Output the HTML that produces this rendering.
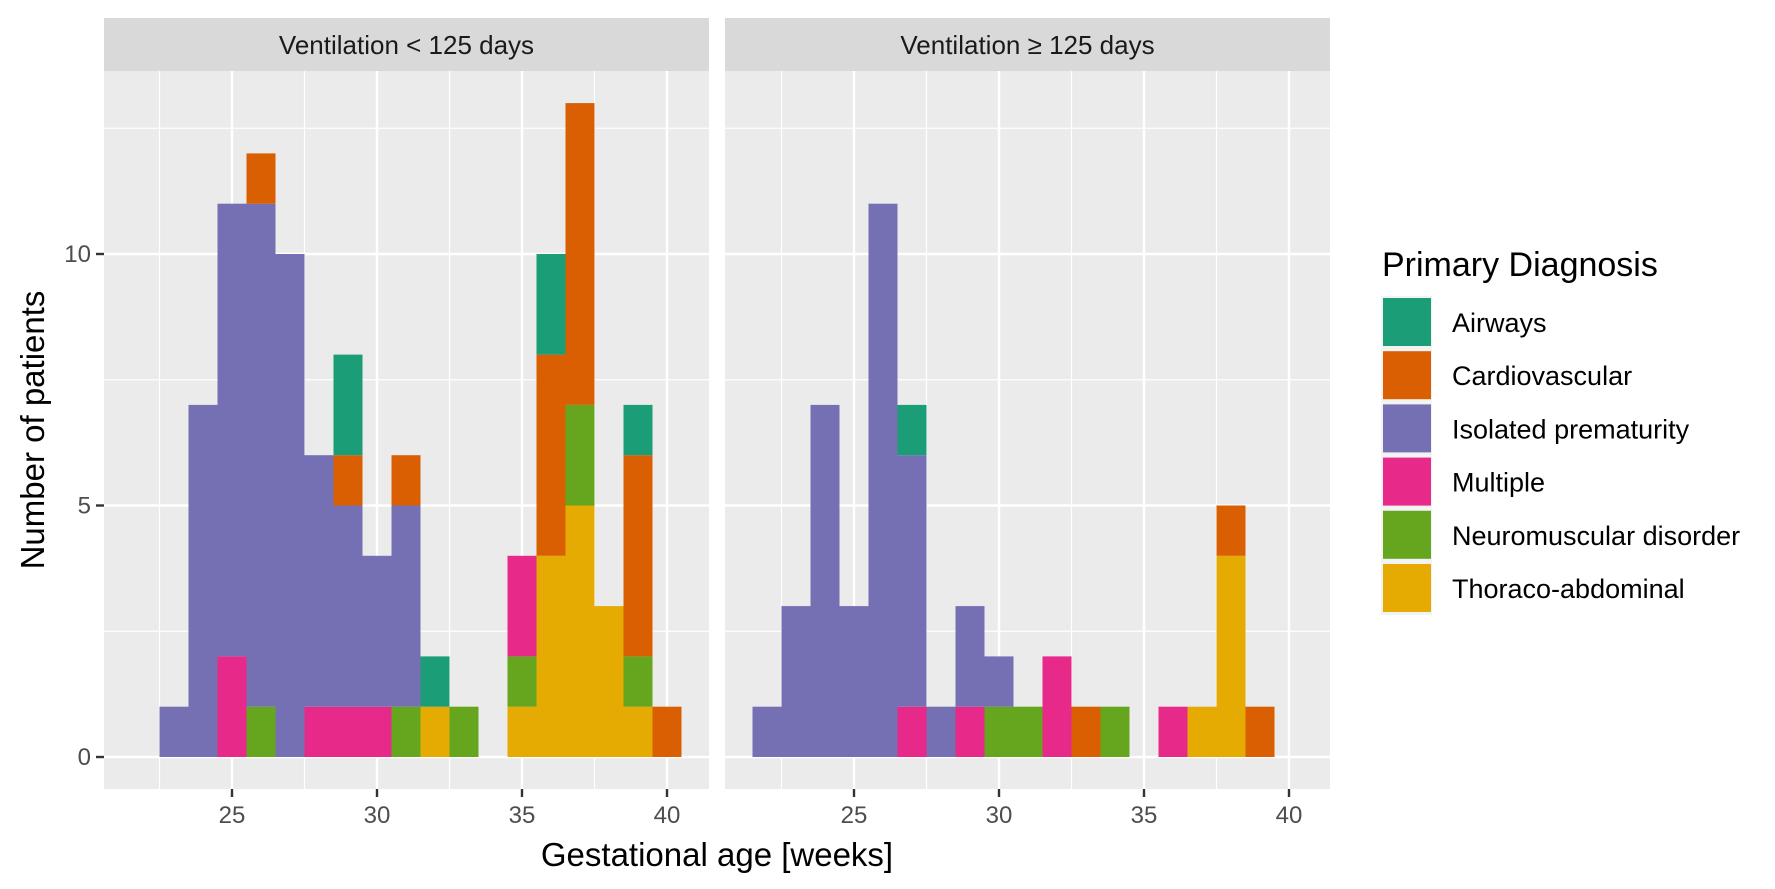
<!DOCTYPE html>
<html><head><meta charset="utf-8"><style>
html,body{margin:0;padding:0;background:#fff;}
svg{display:block;font-family:"Liberation Sans",Arial,sans-serif;}
</style></head><body>
<svg id="chart" width="1775" height="889" viewBox="0 0 1775 889">
<g id="panels"></g>
<text x="717" y="866" font-size="33" text-anchor="middle" fill="#000">Gestational age [weeks]</text>
<text transform="translate(44,430) rotate(-90)" font-size="33" text-anchor="middle" fill="#000">Number of patients</text>
<g id="legend"></g>
</svg>
<script>
const categories = ["Airways","Cardiovascular","Isolated prematurity","Multiple","Neuromuscular disorder","Thoraco-abdominal"];
const colors = ["#1B9E77","#D95F02","#7570B3","#E7298A","#66A61E","#E6AB02"];
const stackOrder = ["Thoraco-abdominal","Neuromuscular disorder","Multiple","Isolated prematurity","Cardiovascular","Airways"];
const panelTitles = ["Ventilation < 125 days","Ventilation \u2265 125 days"];
const xTicks = [25,30,35,40];
const yTicks = [0,5,10];
// bins (weeks) and counts per category: [Airways, Cardio, Isolated, Multiple, Neuro, Thoraco]
const bins1 = [23,24,25,26,27,28,29,30,31,32,33,35,36,37,38,39,40];
const counts1 = [
 [0,0,1,0,0,0],[0,0,7,0,0,0],[0,0,9,2,0,0],[0,1,10,0,1,0],[0,0,10,0,0,0],
 [0,0,5,1,0,0],[2,1,4,1,0,0],[0,0,3,1,0,0],[0,1,4,0,1,0],[1,0,0,0,0,1],
 [0,0,0,0,1,0],[0,0,0,2,1,1],[2,4,0,0,0,4],[0,6,0,0,2,5],[0,0,0,0,0,3],
 [1,4,0,0,1,1],[0,1,0,0,0,0]
];
const bins2 = [22,23,24,25,26,27,28,29,30,31,32,33,34,36,37,38,39];
const counts2 = [
 [0,0,1,0,0,0],[0,0,3,0,0,0],[0,0,7,0,0,0],[0,0,3,0,0,0],[0,0,11,0,0,0],
 [1,0,5,1,0,0],[0,0,1,0,0,0],[0,0,2,1,0,0],[0,0,1,0,1,0],[0,0,0,0,1,0],
 [0,0,0,2,0,0],[0,1,0,0,0,0],[0,0,0,0,1,0],[0,0,0,1,0,0],[0,0,0,0,0,1],
 [0,1,0,0,0,4],[0,1,0,0,0,0]
];
const NS="http://www.w3.org/2000/svg";
function mk(tag,attrs,parent){const e=document.createElementNS(NS,tag);for(const k in attrs)e.setAttribute(k,attrs[k]);parent.appendChild(e);return e;}
const plotTop=71,plotBot=789,y0=757,ppu=50.3,ppw=29;
const yScale=v=>y0-v*ppu;
const panels=[{left:104,right:709,x25:232,bins:bins1,counts:counts1,title:panelTitles[0]},
              {left:725,right:1330,x25:854,bins:bins2,counts:counts2,title:panelTitles[1]}];
const root=document.getElementById('panels');
panels.forEach((p,pi)=>{
  const xScale=v=>p.x25+(v-25)*ppw;
  const g=mk('g',{},root);
  
  
  const bg=mk('rect',{x:p.left,y:plotTop,width:p.right-p.left,height:plotBot-plotTop,fill:'#EBEBEB'},g);
  
  
  const strip=mk('rect',{x:p.left,y:18,width:p.right-p.left,height:53,fill:'#D9D9D9'},g);
  
  
  const st=mk('text',{x:(p.left+p.right)/2,y:54,'font-size':26,'text-anchor':'middle',fill:'#1A1A1A'},g);
  st.textContent=p.title;
  
  
  [2.5,7.5,12.5].forEach(v=>{const l=mk('line',{x1:p.left,x2:p.right,y1:yScale(v),y2:yScale(v),stroke:'#fff','stroke-width':1.2},g);
    });
  [22.5,27.5,32.5,37.5].forEach(v=>{const l=mk('line',{y1:plotTop,y2:plotBot,x1:xScale(v),x2:xScale(v),stroke:'#fff','stroke-width':1.2},g);
    });
  yTicks.forEach(v=>{const l=mk('line',{x1:p.left,x2:p.right,y1:yScale(v),y2:yScale(v),stroke:'#fff','stroke-width':2.4},g);
    });
  xTicks.forEach(v=>{const l=mk('line',{y1:plotTop,y2:plotBot,x1:xScale(v),x2:xScale(v),stroke:'#fff','stroke-width':2.4},g);
    
    const t=mk('line',{y1:plotBot,y2:plotBot+8,x1:xScale(v),x2:xScale(v),stroke:'#333','stroke-width':2.4},g);
    
    const tx=mk('text',{x:xScale(v),y:plotBot+34,'font-size':24,'text-anchor':'middle',fill:'#4D4D4D'},g);
    tx.textContent=v;
    });
  p.bins.forEach((b,bi)=>{
    let cum=0;
    stackOrder.forEach(cat=>{
      const ci=categories.indexOf(cat);const n=p.counts[bi][ci];
      if(!n)return;
      const r=mk('rect',{x:xScale(b-0.5),width:ppw,y:yScale(cum+n),height:n*ppu,fill:colors[ci]},g);
      
      
      cum+=n;
    });
  });
  if(pi===0){
    yTicks.forEach(v=>{
      const t=mk('line',{x1:p.left-8,x2:p.left,y1:yScale(v),y2:yScale(v),stroke:'#333','stroke-width':2.4},g);
      
      const tx=mk('text',{x:p.left-13,y:yScale(v)+8,'font-size':24,'text-anchor':'end',fill:'#4D4D4D'},g);
      tx.textContent=v;
      
    });
  }
});
const lg=document.getElementById('legend');
const lt=mk('text',{x:1382,y:276,'font-size':34,fill:'#000'},lg);
lt.textContent='Primary Diagnosis';


categories.forEach((c,i)=>{
  const y=297+i*53.2;
  const bgk=mk('rect',{x:1381,y:y-1,width:51,height:53,fill:'#F2F2F2'},lg);
  
  
  const k=mk('rect',{x:1383,y:y+1,width:48,height:48,fill:colors[i]},lg);
  
  
  const t=mk('text',{x:1452,y:y+35,'font-size':27,fill:'#000'},lg);
  t.textContent=c;
  
  
});
</script>
</body></html>
